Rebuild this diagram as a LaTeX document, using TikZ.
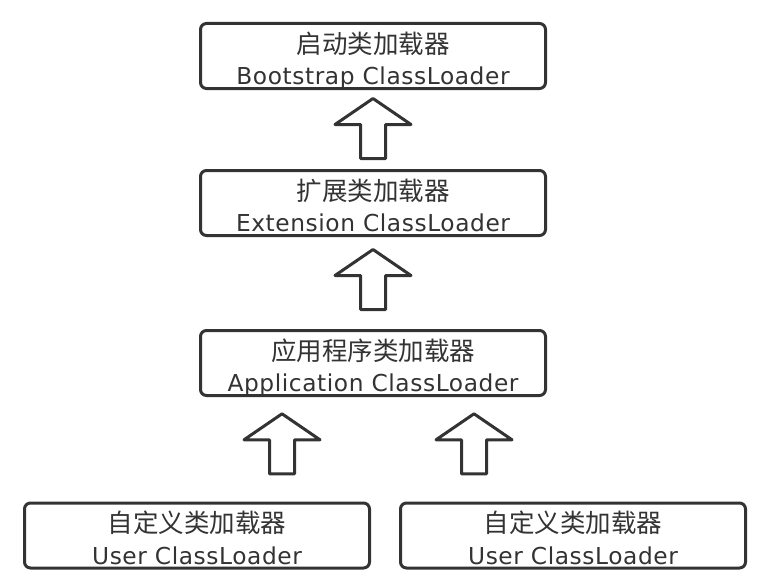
\documentclass[tikz,border=0pt]{standalone}
\usepackage{fontspec}
\setmainfont{Noto Sans CJK SC}
\newfontfamily\cjk{Noto Sans CJK SC}
\newfontfamily\lat[LetterSpace=2.5]{DejaVu Sans}
\usetikzlibrary{calc}
\definecolor{ink}{HTML}{333333}
\tikzset{
  loaderbox/.style={draw=ink, line width=3pt, rounded corners=6pt, fill=white,
    minimum width=345pt, minimum height=65pt, inner sep=0pt},
  zhtext/.style={anchor=base, inner sep=0pt, text=ink, font=\cjk\fontsize{25.5}{30}\selectfont},
  entext/.style={anchor=base, inner sep=0pt, text=ink, font=\lat\fontsize{23.3}{28}\selectfont},
  hollowup/.pic={
    \draw[draw=ink, line width=3pt, line join=round, fill=white]
      (0,0) -- (38,26) -- (12.5,26) -- (12.5,60) -- (-12.5,60) -- (-12.5,26) -- (-38,26) -- cycle;
  }
}
\begin{document}
\begin{tikzpicture}[x=1pt,y=-1pt]
\useasboundingbox (0,0) rectangle (768,586);
% boxes
\node[loaderbox] (boot) at (373,56) {};
\node[loaderbox] (ext)  at (373,203) {};
\node[loaderbox] (app)  at (373,363) {};
\node[loaderbox] (userA) at (197,535.5) {};
\node[loaderbox] (userB) at (573,535.5) {};
% texts
\foreach \b/\zh/\en in {boot/启动类加载器/Bootstrap ClassLoader,
                        ext/扩展类加载器/Extension ClassLoader,
                        app/应用程序类加载器/Application ClassLoader,
                        userA/自定义类加载器/User ClassLoader,
                        userB/自定义类加载器/User ClassLoader}{
  \node[zhtext] (\b-zh) at ($(\b.north)+(0,31)$) {\zh};
  \node[entext] (\b-en) at ($(\b.north)+(0,62.5)$) {\en};
}
% hollow arrows
\pic at ($(boot.south |- 0,98.5)$) {hollowup};
\pic at ($(ext.south |- 0,249.5)$) {hollowup};
\pic at (282,413.8) {hollowup};
\pic at (474,413.8) {hollowup};
\end{tikzpicture}
\end{document}
